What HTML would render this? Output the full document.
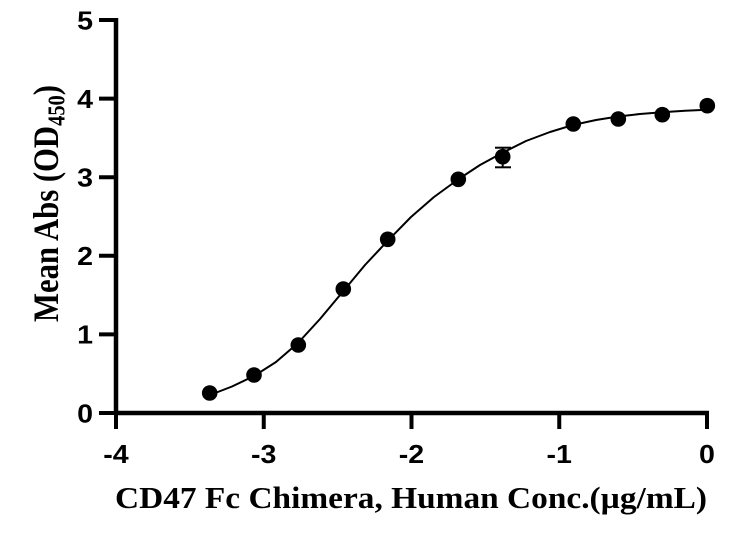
<!DOCTYPE html>
<html>
<head>
<meta charset="utf-8">
<style>
  html, body { margin: 0; padding: 0; background: #ffffff; }
  svg { display: block; }
</style>
</head>
<body>
<svg width="752" height="536" viewBox="0 0 752 536" xmlns="http://www.w3.org/2000/svg">
  <rect x="0" y="0" width="752" height="536" fill="#ffffff"/>

  <!-- Axes -->
  <g stroke="#000" stroke-width="4.5" fill="none" stroke-linecap="butt">
    <line x1="116" y1="18" x2="116" y2="415"/>
    <line x1="114" y1="413" x2="709" y2="413"/>
  </g>
  <!-- Y ticks -->
  <g stroke="#000" stroke-width="4">
    <line x1="99" y1="20" x2="116" y2="20"/>
    <line x1="99" y1="98.6" x2="116" y2="98.6"/>
    <line x1="99" y1="177.2" x2="116" y2="177.2"/>
    <line x1="99" y1="255.8" x2="116" y2="255.8"/>
    <line x1="99" y1="334.4" x2="116" y2="334.4"/>
    <line x1="99" y1="413" x2="116" y2="413"/>
  </g>
  <!-- X ticks -->
  <g stroke="#000" stroke-width="4">
    <line x1="116" y1="413" x2="116" y2="429"/>
    <line x1="263.75" y1="413" x2="263.75" y2="429"/>
    <line x1="411.5" y1="413" x2="411.5" y2="429"/>
    <line x1="559.25" y1="413" x2="559.25" y2="429"/>
    <line x1="707" y1="413" x2="707" y2="429"/>
  </g>

  <!-- Y tick labels -->
  <g font-family="'Liberation Sans', Arial, sans-serif" font-weight="bold" font-size="26" fill="#000" text-anchor="end">
    <text transform="translate(93,29.3) scale(1.1,1)">5</text>
    <text transform="translate(93,107.9) scale(1.1,1)">4</text>
    <text transform="translate(93,186.5) scale(1.1,1)">3</text>
    <text transform="translate(93,265.1) scale(1.1,1)">2</text>
    <text transform="translate(93,343.7) scale(1.1,1)">1</text>
    <text transform="translate(93,422.3) scale(1.1,1)">0</text>
  </g>
  <!-- X tick labels -->
  <g font-family="'Liberation Sans', Arial, sans-serif" font-weight="bold" font-size="26" fill="#000" text-anchor="middle">
    <text transform="translate(116,463) scale(1.1,1)">-4</text>
    <text transform="translate(263.75,463) scale(1.1,1)">-3</text>
    <text transform="translate(411.5,463) scale(1.1,1)">-2</text>
    <text transform="translate(559.25,463) scale(1.1,1)">-1</text>
    <text transform="translate(707,463) scale(1.1,1)">0</text>
  </g>

  <!-- X title -->
  <text x="115" y="508" font-family="'Liberation Serif', 'Times New Roman', serif" font-weight="bold" font-size="31" fill="#000" textLength="592" lengthAdjust="spacingAndGlyphs">CD47 Fc Chimera, Human Conc.(µg/mL)</text>

  <!-- Y title -->
  <text transform="translate(58,322) scale(1.1,1) rotate(-90)" x="0" y="0" font-family="'Liberation Serif', 'Times New Roman', serif" font-weight="bold" font-size="33" fill="#000" textLength="237" lengthAdjust="spacingAndGlyphs">Mean Abs (OD<tspan font-size="22" dy="6">450</tspan><tspan dy="-6">)</tspan></text>

  <!-- Fitted curve -->
  <polyline fill="none" stroke="#000" stroke-width="2" stroke-linejoin="round"
    points="210,395 232,386.5 254,376 276,362 298,343 320,319 343,291.5 365,265 388,240.5 411,217 434,197 458,179.5 480,165 503,152.5 526,141 550,132 573,125 596,120 618,116.5 640,114 662,112.2 685,110.8 707,109.8"/>

  <!-- Error bar -->
  <g stroke="#000" stroke-width="2">
    <line x1="502.7" y1="147.7" x2="502.7" y2="167.3"/>
    <line x1="495" y1="147.7" x2="511" y2="147.7"/>
    <line x1="495" y1="167.3" x2="511" y2="167.3"/>
  </g>

  <!-- Data points -->
  <g fill="#000">
    <circle cx="209.7" cy="393" r="7.8"/>
    <circle cx="254" cy="375" r="7.8"/>
    <circle cx="298.3" cy="345" r="7.8"/>
    <circle cx="343.3" cy="289" r="7.8"/>
    <circle cx="387.7" cy="239.3" r="7.8"/>
    <circle cx="458.3" cy="179.3" r="7.8"/>
    <circle cx="502.7" cy="156.7" r="7.8"/>
    <circle cx="573.3" cy="124" r="7.8"/>
    <circle cx="618.3" cy="119" r="7.8"/>
    <circle cx="662.3" cy="114.7" r="7.8"/>
    <circle cx="707.3" cy="105.7" r="7.8"/>
  </g>
</svg>
</body>
</html>
